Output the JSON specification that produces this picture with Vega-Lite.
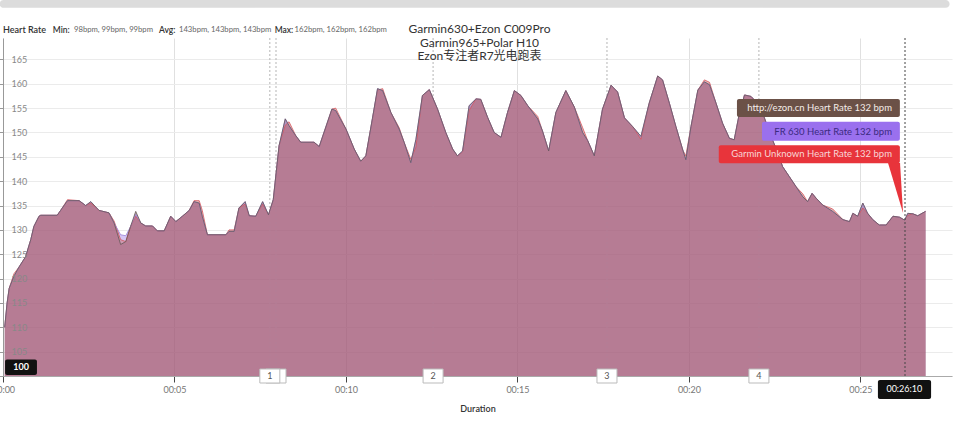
{
  "$schema": "https://vega.github.io/schema/vega-lite/v6.json",
  "width": 949,
  "height": 338,
  "autosize": {"type": "none"},
  "padding": {"left": 3, "top": 38, "right": 8, "bottom": 54},
  "config": {
    "font": "Lato, Noto Sans CJK SC",
    "view": {"stroke": null}
  },
  "title": {
    "text": ["Garmin630+Ezon C009Pro", "Garmin965+Polar H10", "Ezon专注者R7光电跑表"],
    "anchor": "middle",
    "frame": "group",
    "fontSize": 12,
    "fontWeight": "normal",
    "color": "#333333",
    "lineHeight": 13.5,
    "offset": -63,
    "dx": 2
  },
  "resolve": {"axis": {"y": "independent"}},
  "data": {"values": [{}]},
  "datasets": {
    "hr": [
      {"t":0.05,"a":110,"b":110,"c":110},
      {"t":0.12,"a":115,"b":115,"c":115},
      {"t":0.18,"a":118,"b":118,"c":118},
      {"t":0.32,"a":120.5,"b":120.5,"c":121},
      {"t":0.47,"a":122.4,"b":122.4,"c":122.4},
      {"t":0.66,"a":124.5,"b":124.5,"c":124.5},
      {"t":0.81,"a":128,"b":128,"c":128},
      {"t":0.9,"a":130.7,"b":130.7,"c":130.7},
      {"t":1.05,"a":132.8,"b":132.8,"c":132.8},
      {"t":1.1,"a":133,"b":133,"c":133},
      {"t":1.58,"a":133,"b":133,"c":133},
      {"t":1.68,"a":134,"b":134,"c":134},
      {"t":1.88,"a":136,"b":136,"c":136.2},
      {"t":2.22,"a":136,"b":136,"c":136},
      {"t":2.41,"a":135,"b":135,"c":135},
      {"t":2.56,"a":135.8,"b":135.8,"c":135.5},
      {"t":2.8,"a":134,"b":134,"c":134},
      {"t":3.09,"a":133.5,"b":133.5,"c":133.5},
      {"t":3.24,"a":131.4,"b":131.4,"c":131.8},
      {"t":3.43,"a":127,"b":129,"c":128},
      {"t":3.58,"a":127.6,"b":128.8,"c":127.6},
      {"t":3.72,"a":130.7,"b":130.7,"c":130.7},
      {"t":3.87,"a":133.8,"b":133.2,"c":132.8},
      {"t":4.02,"a":131.4,"b":131.4,"c":131.4},
      {"t":4.16,"a":130.8,"b":130.8,"c":130.8},
      {"t":4.36,"a":130.8,"b":130.8,"c":130.8},
      {"t":4.5,"a":129.8,"b":129.8,"c":129.8},
      {"t":4.7,"a":129.8,"b":129.8,"c":129.8},
      {"t":4.89,"a":132.8,"b":132.8,"c":132.8},
      {"t":5.04,"a":131.7,"b":131.7,"c":131.7},
      {"t":5.23,"a":132.8,"b":132.8,"c":132.8},
      {"t":5.43,"a":134,"b":134,"c":134},
      {"t":5.57,"a":135.8,"b":135.8,"c":136},
      {"t":5.72,"a":135.5,"b":135.5,"c":136},
      {"t":5.81,"a":132.8,"b":132.8,"c":134},
      {"t":5.96,"a":129,"b":129,"c":129},
      {"t":6.5,"a":129,"b":129,"c":129},
      {"t":6.59,"a":129.7,"b":129.7,"c":130},
      {"t":6.74,"a":129.7,"b":129.7,"c":130},
      {"t":6.88,"a":134.5,"b":134.5,"c":134.5},
      {"t":7.06,"a":135.8,"b":135.8,"c":135.3},
      {"t":7.18,"a":132.9,"b":132.9,"c":132.9},
      {"t":7.37,"a":132.8,"b":132.8,"c":132.8},
      {"t":7.57,"a":135.8,"b":135.8,"c":135.3},
      {"t":7.74,"a":133.1,"b":133.1,"c":133.1},
      {"t":7.88,"a":136.2,"b":136.2,"c":136.2},
      {"t":8.05,"a":147.3,"b":147.3,"c":147.3},
      {"t":8.23,"a":152.8,"b":152.8,"c":151.5},
      {"t":8.34,"a":151.4,"b":151.4,"c":152.2},
      {"t":8.54,"a":149.3,"b":149.3,"c":149.3},
      {"t":8.68,"a":148,"b":148,"c":148},
      {"t":9.07,"a":148,"b":148,"c":148},
      {"t":9.22,"a":147.1,"b":147.1,"c":147.1},
      {"t":9.59,"a":154.8,"b":154.8,"c":154.8},
      {"t":9.7,"a":154.5,"b":154.5,"c":155},
      {"t":10,"a":150.7,"b":150.7,"c":150.7},
      {"t":10.24,"a":146.6,"b":146.6,"c":146.6},
      {"t":10.43,"a":144.1,"b":144.1,"c":144.1},
      {"t":10.58,"a":145.2,"b":145.2,"c":145.2},
      {"t":10.77,"a":152.8,"b":152.8,"c":152.8},
      {"t":10.92,"a":159,"b":159,"c":158.7},
      {"t":11.07,"a":158.6,"b":158.6,"c":159},
      {"t":11.31,"a":154.1,"b":154.1,"c":154.1},
      {"t":11.55,"a":150.7,"b":150.7,"c":151},
      {"t":11.7,"a":147.9,"b":147.9,"c":147.9},
      {"t":11.89,"a":143.8,"b":143.8,"c":144.5},
      {"t":12.04,"a":148.6,"b":148.6,"c":147},
      {"t":12.23,"a":157.6,"b":157.6,"c":157.6},
      {"t":12.43,"a":158.8,"b":158.8,"c":158.8},
      {"t":12.67,"a":154.8,"b":154.8,"c":154.8},
      {"t":12.91,"a":150,"b":150,"c":150},
      {"t":13.11,"a":146.6,"b":146.6,"c":146.6},
      {"t":13.25,"a":145.2,"b":145.2,"c":145.2},
      {"t":13.4,"a":146.2,"b":146.2,"c":146},
      {"t":13.59,"a":155.5,"b":155.5,"c":154.5},
      {"t":13.79,"a":156.9,"b":156.9,"c":156.9},
      {"t":13.93,"a":156.8,"b":156.8,"c":156.8},
      {"t":14.13,"a":153.1,"b":153.1,"c":153.1},
      {"t":14.32,"a":150,"b":150,"c":150},
      {"t":14.52,"a":149,"b":149,"c":149},
      {"t":14.71,"a":154.1,"b":154.1,"c":154.1},
      {"t":14.91,"a":158.6,"b":158.6,"c":158.6},
      {"t":15.1,"a":157.6,"b":157.6,"c":157.6},
      {"t":15.3,"a":155.5,"b":155.5,"c":155.5},
      {"t":15.59,"a":152.8,"b":152.8,"c":153.3},
      {"t":15.73,"a":150.3,"b":150.3,"c":150.3},
      {"t":15.91,"a":146.2,"b":146.2,"c":146.2},
      {"t":16.12,"a":154.1,"b":154.1,"c":154.1},
      {"t":16.41,"a":158.6,"b":158.6,"c":158.6},
      {"t":16.66,"a":155.2,"b":155.2,"c":155.2},
      {"t":16.9,"a":150,"b":150,"c":151},
      {"t":17.05,"a":148.3,"b":148.3,"c":148.3},
      {"t":17.24,"a":145.2,"b":145.2,"c":145.2},
      {"t":17.48,"a":154.8,"b":154.8,"c":154.8},
      {"t":17.73,"a":159.7,"b":159.7,"c":159.7},
      {"t":17.92,"a":158.3,"b":158.3,"c":158.3},
      {"t":18.12,"a":153,"b":153,"c":153},
      {"t":18.36,"a":151.2,"b":151.2,"c":151.2},
      {"t":18.6,"a":149.2,"b":149.2,"c":148.6},
      {"t":18.84,"a":156,"b":156,"c":156},
      {"t":19.09,"a":161.6,"b":161.6,"c":161.6},
      {"t":19.23,"a":160.8,"b":160.8,"c":160.8},
      {"t":19.43,"a":156,"b":156,"c":156},
      {"t":19.62,"a":151.2,"b":151.2,"c":151.2},
      {"t":19.82,"a":146.4,"b":146.4,"c":146.4},
      {"t":19.91,"a":144.4,"b":144.4,"c":145.2},
      {"t":20.06,"a":151.2,"b":151.2,"c":151.2},
      {"t":20.26,"a":158.7,"b":158.7,"c":158.7},
      {"t":20.45,"a":160.4,"b":160.4,"c":160.8},
      {"t":20.6,"a":159.8,"b":159.8,"c":160.3},
      {"t":20.79,"a":156,"b":156,"c":156},
      {"t":20.98,"a":151.9,"b":151.9,"c":151.9},
      {"t":21.18,"a":148.8,"b":148.8,"c":148.8},
      {"t":21.32,"a":148.5,"b":148.5,"c":148.5},
      {"t":21.47,"a":153.9,"b":153.9,"c":153.9},
      {"t":21.62,"a":157.7,"b":157.7,"c":157.7},
      {"t":21.81,"a":157.4,"b":157.4,"c":157.4},
      {"t":21.96,"a":156.3,"b":156.3,"c":156.3},
      {"t":22.15,"a":154,"b":154,"c":154},
      {"t":22.35,"a":150,"b":150,"c":150},
      {"t":22.55,"a":146.5,"b":146.5,"c":146.5},
      {"t":22.73,"a":143,"b":143,"c":143},
      {"t":22.93,"a":140.9,"b":140.9,"c":140.9},
      {"t":23.12,"a":138.9,"b":138.9,"c":138.9},
      {"t":23.32,"a":136.8,"b":136.8,"c":137.4},
      {"t":23.46,"a":135.8,"b":135.8,"c":135.8},
      {"t":23.59,"a":137.5,"b":137.5,"c":137.5},
      {"t":23.71,"a":136.5,"b":136.5,"c":136.5},
      {"t":23.9,"a":135.1,"b":135.1,"c":135.1},
      {"t":24.19,"a":133.8,"b":133.8,"c":134.3},
      {"t":24.49,"a":132.1,"b":132.1,"c":132.1},
      {"t":24.68,"a":131.7,"b":131.7,"c":131.7},
      {"t":24.78,"a":133.4,"b":133.4,"c":133.4},
      {"t":24.92,"a":132.8,"b":132.8,"c":132.8},
      {"t":25.07,"a":135.5,"b":135.5,"c":134.5},
      {"t":25.21,"a":133.4,"b":133.4,"c":133.4},
      {"t":25.36,"a":132.1,"b":132.1,"c":132.1},
      {"t":25.55,"a":131,"b":131,"c":131},
      {"t":25.75,"a":131,"b":131,"c":131},
      {"t":25.95,"a":132.8,"b":132.8,"c":132.8},
      {"t":26.14,"a":132.6,"b":132.6,"c":132.6},
      {"t":26.29,"a":132,"b":132,"c":132},
      {"t":26.38,"a":133.4,"b":133.4,"c":133},
      {"t":26.53,"a":133.3,"b":133.3,"c":133.3},
      {"t":26.67,"a":132.9,"b":132.9,"c":132.9},
      {"t":26.9,"a":133.8,"b":133.8,"c":133.8}
    ],
    "laps": [
      {"lap":"","t":7.96},
      {"lap":"1","t":7.78},
      {"lap":"2","t":12.54},
      {"lap":"3","t":17.61},
      {"lap":"4","t":22.04}
    ]
  },
  "layer": [
    {
      "data": {"name": "hr"},
      "mark": {"type": "area", "color": "#5c3a3a", "opacity": 0.4},
      "encoding": {
        "x": {
          "field": "t", "type": "quantitative", "title": "Duration",
          "scale": {"domain": [0, 27.67], "nice": false, "zero": false},
          "axis": {
            "values": [0, 5, 10, 15, 20, 25],
            "labelExpr": "'00:' + (datum.value < 10 ? '0' : '') + datum.value",
            "labelFlush": false,
            "grid": true, "gridColor": "#e0e0e0",
            "domainColor": "#aaaaaa", "tickColor": "#444444", "tickSize": 6,
            "labelPadding": 3, "labelFontSize": 9, "labelColor": "#777777",
            "titleFontSize": 9, "titleFontWeight": 600, "titleColor": "#333333", "titlePadding": 10
          }
        },
        "y": {
          "field": "a", "type": "quantitative", "title": null,
          "scale": {"domain": [100, 169.4], "nice": false, "zero": false},
          "axis": {
            "orient": "left",
            "values": [100, 105, 110, 115, 120, 125, 130, 135, 140, 145, 150, 155, 160, 165],
            "tickCount": 14,
            "grid": true, "gridColor": "#ebebeb",
            "domain": false, "ticks": false, "labels": false,
            "zindex": 0
          }
        },
        "y2": {"datum": 100}
      }
    },
    {
      "data": {"name": "laps"},
      "mark": {"type": "rule", "color": "#b5b5b5", "strokeDash": [2, 2], "strokeWidth": 1},
      "encoding": {
        "x": {"field": "t", "type": "quantitative", "title": "Duration"},
        "y": {"datum": 169.4, "type": "quantitative", "axis": null},
        "y2": {"datum": 100}
      }
    },
    {
      "data": {"name": "hr"},
      "mark": {"type": "area", "color": "#9670e6", "opacity": 0.4},
      "encoding": {
        "x": {"field": "t", "type": "quantitative", "title": "Duration"},
        "y": {"field": "b", "type": "quantitative", "title": null, "axis": null},
        "y2": {"datum": 100}
      }
    },
    {
      "data": {"name": "hr"},
      "mark": {"type": "area", "color": "#c2564a", "opacity": 0.4},
      "encoding": {
        "x": {"field": "t", "type": "quantitative", "title": "Duration"},
        "y": {"field": "c", "type": "quantitative", "title": null, "axis": null},
        "y2": {"datum": 100}
      }
    },
    {
      "data": {"name": "hr"},
      "mark": {"type": "line", "color": "#d5555d", "strokeWidth": 1, "opacity": 0.8},
      "encoding": {
        "x": {"field": "t", "type": "quantitative", "title": "Duration"},
        "y": {"field": "c", "type": "quantitative", "title": null, "axis": null}
      }
    },
    {
      "data": {"name": "hr"},
      "mark": {"type": "line", "color": "#9c82d8", "strokeWidth": 1, "opacity": 0.8},
      "encoding": {
        "x": {"field": "t", "type": "quantitative", "title": "Duration"},
        "y": {"field": "b", "type": "quantitative", "title": null, "axis": null}
      }
    },
    {
      "data": {"name": "hr"},
      "mark": {"type": "line", "color": "#6a5a5a", "strokeWidth": 1, "opacity": 0.85},
      "encoding": {
        "x": {"field": "t", "type": "quantitative", "title": "Duration"},
        "y": {
          "field": "a", "type": "quantitative", "title": null,
          "axis": {
            "orient": "left",
            "values": [100, 105, 110, 115, 120, 125, 130, 135, 140, 145, 150, 155, 160, 165],
            "tickCount": 14,
            "labelExpr": "datum.value == 100 ? '' : datum.label",
            "grid": false,
            "domainColor": "#999999", "tickColor": "#999999", "tickSize": 4,
            "labelAlign": "left", "labelPadding": -12, "labelFontSize": 9, "labelColor": "#888888",
            "zindex": 1
          }
        }
      }
    },
    {
      "mark": {"type": "rule", "color": "#444444", "strokeDash": [2, 2], "strokeWidth": 1},
      "encoding": {
        "x": {"datum": 26.3, "type": "quantitative"},
        "y": {"datum": 169.4, "type": "quantitative", "axis": null},
        "y2": {"datum": 100}
      }
    },
    {
      "data": {"name": "laps"},
      "mark": {"type": "point", "shape": "M-1,-0.7L1,-0.7L1,0.7L-1,0.7Z", "size": 400, "filled": true, "fill": "#ffffff", "stroke": "#bbbbbb", "strokeWidth": 1, "opacity": 1},
      "encoding": {
        "x": {"field": "t", "type": "quantitative", "title": "Duration"},
        "y": {"datum": 100, "type": "quantitative", "axis": null}
      }
    },
    {
      "data": {"name": "laps"},
      "mark": {"type": "text", "fontSize": 9, "color": "#555555", "baseline": "middle"},
      "encoding": {
        "x": {"field": "t", "type": "quantitative", "title": "Duration"},
        "y": {"datum": 100, "type": "quantitative", "axis": null},
        "text": {"field": "lap"}
      }
    },
    {
      "mark": {"type": "rect", "color": "#111111", "cornerRadius": 2},
      "encoding": {
        "x": {"datum": 0.06, "type": "quantitative"},
        "x2": {"datum": 0.99},
        "y": {"datum": 100.2, "type": "quantitative", "axis": null},
        "y2": {"datum": 103.4}
      }
    },
    {
      "mark": {"type": "text", "text": "100", "fontSize": 9, "fontWeight": "bold", "color": "#ffffff", "baseline": "middle"},
      "encoding": {
        "x": {"datum": 0.53, "type": "quantitative"},
        "y": {"datum": 101.8, "type": "quantitative", "axis": null}
      }
    },
    {
      "mark": {"type": "rect", "color": "#111111", "cornerRadius": 2},
      "encoding": {
        "x": {"datum": 25.51, "type": "quantitative"},
        "x2": {"datum": 27.06},
        "y": {"datum": 99.2, "type": "quantitative", "axis": null},
        "y2": {"datum": 95.3}
      }
    },
    {
      "mark": {"type": "text", "text": "00:26:10", "fontSize": 9, "color": "#ffffff", "baseline": "middle"},
      "encoding": {
        "x": {"datum": 26.28, "type": "quantitative"},
        "y": {"datum": 97.25, "type": "quantitative", "axis": null}
      }
    },
    {
      "mark": {"type": "rect", "color": "#6b5147", "cornerRadius": 2},
      "encoding": {
        "x": {"datum": 21.4, "type": "quantitative"},
        "x2": {"datum": 26.15},
        "y": {"datum": 156.9, "type": "quantitative", "axis": null},
        "y2": {"datum": 153.2}
      }
    },
    {
      "mark": {"type": "rect", "color": "#9a70ee", "cornerRadius": 2},
      "encoding": {
        "x": {"datum": 22.13, "type": "quantitative"},
        "x2": {"datum": 26.15},
        "y": {"datum": 152.2, "type": "quantitative", "axis": null},
        "y2": {"datum": 148.3}
      }
    },
    {
      "mark": {"type": "point", "shape": "M-0.24,-1L0.24,-1L0.36,1Z", "size": 2500, "filled": true, "color": "#e8343b", "opacity": 1},
      "encoding": {
        "x": {"datum": 25.98, "type": "quantitative"},
        "y": {"datum": 138.6, "type": "quantitative", "axis": null}
      }
    },
    {
      "mark": {"type": "rect", "color": "#e8343b", "cornerRadius": 2},
      "encoding": {
        "x": {"datum": 20.87, "type": "quantitative"},
        "x2": {"datum": 26.15},
        "y": {"datum": 147.4, "type": "quantitative", "axis": null},
        "y2": {"datum": 143.7}
      }
    },
    {
      "mark": {"type": "text", "text": "http://ezon.cn Heart Rate 132 bpm", "fontSize": 9.5, "color": "#f4ece8", "align": "right", "baseline": "middle"},
      "encoding": {
        "x": {"datum": 25.92, "type": "quantitative"},
        "y": {"datum": 155.03, "type": "quantitative", "axis": null}
      }
    },
    {
      "mark": {"type": "text", "text": "FR 630 Heart Rate 132 bpm", "fontSize": 9.5, "color": "#3b2a80", "align": "right", "baseline": "middle"},
      "encoding": {
        "x": {"datum": 25.92, "type": "quantitative"},
        "y": {"datum": 150.2, "type": "quantitative", "axis": null}
      }
    },
    {
      "mark": {"type": "text", "text": "Garmin Unknown Heart Rate 132 bpm", "fontSize": 9.5, "color": "#f8d6d6", "align": "right", "baseline": "middle"},
      "encoding": {
        "x": {"datum": 25.92, "type": "quantitative"},
        "y": {"datum": 145.6, "type": "quantitative", "axis": null}
      }
    },
    {
      "mark": {"type": "rect", "color": "#dcdcdc", "cornerRadius": 4},
      "encoding": {
        "x": {"datum": -0.1, "type": "quantitative"},
        "x2": {"datum": 27.6},
        "y": {"datum": 177.2, "type": "quantitative", "axis": null},
        "y2": {"datum": 175.6}
      }
    },
    {
      "mark": {"type": "text", "text": "Heart Rate", "fontSize": 9, "fontWeight": 600, "color": "#333333", "align": "left", "baseline": "middle"},
      "encoding": {
        "x": {"datum": 0.0, "type": "quantitative"},
        "y": {"datum": 171.05, "type": "quantitative", "axis": null}
      }
    },
    {
      "mark": {"type": "text", "text": "Min:", "fontSize": 8.5, "fontWeight": 600, "color": "#333333", "align": "left", "baseline": "middle"},
      "encoding": {
        "x": {"datum": 1.45, "type": "quantitative"},
        "y": {"datum": 171.05, "type": "quantitative", "axis": null}
      }
    },
    {
      "mark": {"type": "text", "text": "98bpm, 99bpm, 99bpm", "fontSize": 7.7, "color": "#666666", "align": "left", "baseline": "middle"},
      "encoding": {
        "x": {"datum": 2.07, "type": "quantitative"},
        "y": {"datum": 171.05, "type": "quantitative", "axis": null}
      }
    },
    {
      "mark": {"type": "text", "text": "Avg:", "fontSize": 8.5, "fontWeight": 600, "color": "#333333", "align": "left", "baseline": "middle"},
      "encoding": {
        "x": {"datum": 4.55, "type": "quantitative"},
        "y": {"datum": 171.05, "type": "quantitative", "axis": null}
      }
    },
    {
      "mark": {"type": "text", "text": "143bpm, 143bpm, 143bpm", "fontSize": 7.7, "color": "#666666", "align": "left", "baseline": "middle"},
      "encoding": {
        "x": {"datum": 5.13, "type": "quantitative"},
        "y": {"datum": 171.05, "type": "quantitative", "axis": null}
      }
    },
    {
      "mark": {"type": "text", "text": "Max:", "fontSize": 8.5, "fontWeight": 600, "color": "#333333", "align": "left", "baseline": "middle"},
      "encoding": {
        "x": {"datum": 7.92, "type": "quantitative"},
        "y": {"datum": 171.05, "type": "quantitative", "axis": null}
      }
    },
    {
      "mark": {"type": "text", "text": "162bpm, 162bpm, 162bpm", "fontSize": 7.7, "color": "#666666", "align": "left", "baseline": "middle"},
      "encoding": {
        "x": {"datum": 8.5, "type": "quantitative"},
        "y": {"datum": 171.05, "type": "quantitative", "axis": null}
      }
    }
  ]
}
